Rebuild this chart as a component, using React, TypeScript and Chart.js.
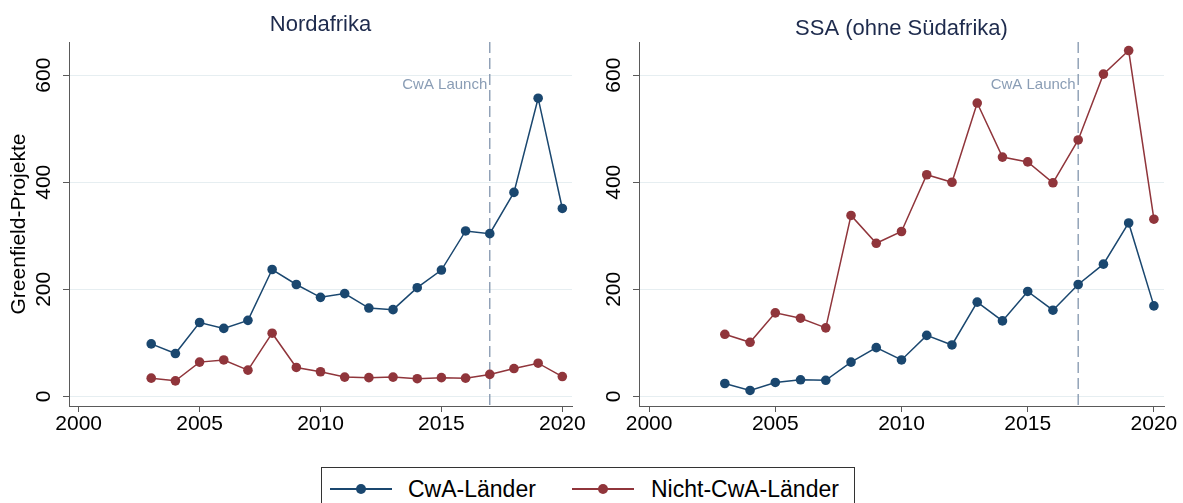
import React, { useEffect, useRef } from 'react';
import { Chart, registerables } from 'chart.js';

Chart.register(...registerables);

const years = [2003, 2004, 2005, 2006, 2007, 2008, 2009, 2010, 2011, 2012, 2013, 2014, 2015, 2016, 2017, 2018, 2019, 2020];
const nordCwA = [98, 80, 138, 127, 142, 237, 209, 185, 192, 165, 162, 203, 236, 309, 304, 381, 557, 351];
const nordNonCwA = [34, 29, 64, 68, 49, 118, 54, 46, 36, 35, 36, 33, 35, 34, 41, 52, 62, 37];
const ssaCwA = [24, 11, 26, 31, 30, 64, 91, 68, 114, 96, 176, 141, 196, 161, 209, 247, 324, 169];
const ssaNonCwA = [116, 101, 156, 146, 128, 338, 286, 308, 414, 400, 548, 447, 438, 399, 479, 602, 646, 331];
const xTicks = [2000, 2005, 2010, 2015, 2020];
const yTicks = [0, 200, 400, 600];
const launchYear = 2017;
const launchLabel = 'CwA Launch';
const panelTitles = ['Nordafrika', 'SSA (ohne Südafrika)'];
const seriesLabels = ['CwA-Länder', 'Nicht-CwA-Länder'];
const yAxisTitle = 'Greenfield-Projekte';

const BLUE = '#1a476f';
const RED = '#90353b';
const FONT = '"Liberation Sans", Arial, Helvetica, sans-serif';
const AXIS = '#5a5a5a';

const decoPlugin = {
  id: 'panelDeco',
  beforeDatasetsDraw(chart: any, _args: any, opts: any) {
    const { ctx, chartArea } = chart;
    const x = chart.scales.x.getPixelForValue(launchYear);
    ctx.save();
    ctx.strokeStyle = '#8295ad';
    ctx.lineWidth = 1.3;
    ctx.setLineDash([11, 5]);
    ctx.beginPath();
    ctx.moveTo(x, chartArea.top);
    ctx.lineTo(x, chartArea.bottom);
    ctx.stroke();
    ctx.setLineDash([]);
    ctx.fillStyle = '#8a9db5';
    ctx.font = `15px ${FONT}`;
    ctx.textAlign = 'right';
    ctx.textBaseline = 'middle';
    ctx.fillText(launchLabel, x - 2.5, chartArea.top + 42.5);
    ctx.restore();
  },
  afterDraw(chart: any, _args: any, opts: any) {
    const { ctx, chartArea } = chart;
    const ys = chart.scales.y;
    ctx.save();
    ctx.fillStyle = '#000';
    ctx.font = `21px ${FONT}`;
    ctx.textAlign = 'center';
    ctx.textBaseline = 'middle';
    for (const t of ys.ticks) {
      const py = ys.getPixelForValue(t.value);
      ctx.save();
      ctx.translate(chartArea.left - 25, py);
      ctx.rotate(-Math.PI / 2);
      ctx.fillText(String(t.value), 0, 0);
      ctx.restore();
    }
    ctx.fillStyle = '#1e2b4d';
    ctx.font = `22px ${FONT}`;
    ctx.textBaseline = 'alphabetic';
    ctx.fillText(opts.title, (chartArea.left + chartArea.right) / 2, opts.titleY);
    ctx.restore();
  },
};

function makeConfig(panel: number): any {
  const cwa = panel === 0 ? nordCwA : ssaCwA;
  const non = panel === 0 ? nordNonCwA : ssaNonCwA;
  const yWidth = panel === 0 ? 69 : 44;
  const padRight = panel === 0 ? 23 : 19;
  const mk = (vals: number[], label: string, color: string) => ({
    label,
    data: years.map((y, i) => ({ x: y, y: vals[i] })),
    borderColor: color,
    backgroundColor: color,
    pointBackgroundColor: color,
    pointBorderWidth: 0,
    pointRadius: 4.8,
    borderWidth: 1.5,
    tension: 0,
    fill: false,
  });
  return {
    type: 'line',
    data: {
      datasets: [mk(cwa, seriesLabels[0], BLUE), mk(non, seriesLabels[1], RED)],
    },
    plugins: [decoPlugin],
    options: {
      animation: false,
      responsive: false,
      maintainAspectRatio: false,
      events: [],
      layout: { padding: { top: 42, right: padRight, left: 0, bottom: 0 } },
      plugins: {
        legend: { display: false },
        tooltip: { enabled: false },
        panelDeco: { title: panelTitles[panel], titleY: panel === 0 ? 31 : 35 },
      },
      scales: {
        x: {
          type: 'linear',
          min: 1999.6,
          max: 2020.4,
          afterBuildTicks: (a: any) => {
            a.ticks = xTicks.map((v) => ({ value: v }));
          },
          afterFit: (s: any) => {
            s.height = 49;
          },
          ticks: {
            color: '#000',
            font: { family: FONT, size: 21 },
            padding: 0,
            maxRotation: 0,
            minRotation: 0,
            autoSkip: false,
            callback: (v: any) => String(v),
          },
          grid: {
            drawOnChartArea: false,
            drawTicks: true,
            tickLength: 6,
            tickColor: AXIS,
            color: AXIS,
          },
          border: { display: true, color: AXIS, width: 1 },
        },
        y: {
          type: 'linear',
          min: -18,
          max: 662,
          afterBuildTicks: (a: any) => {
            a.ticks = yTicks.map((v) => ({ value: v }));
          },
          afterFit: (s: any) => {
            s.width = yWidth;
          },
          ticks: { display: false },
          grid: {
            color: '#e6eef1',
            lineWidth: 1,
            tickColor: AXIS,
            tickLength: 6,
            drawTicks: true,
          },
          border: { display: true, color: AXIS, width: 1 },
          title: {
            display: panel === 0,
            text: yAxisTitle,
            color: '#000',
            font: { family: FONT, size: 21 },
            padding: { top: 7, bottom: 0 },
          },
        },
      },
    },
  };
}

function Panel({ panel, left, width }: { panel: number; left: number; width: number }) {
  const ref = useRef<HTMLCanvasElement | null>(null);
  useEffect(() => {
    if (!ref.current) return;
    const chart = new Chart(ref.current, makeConfig(panel));
    return () => chart.destroy();
  }, [panel]);
  return (
    <canvas
      ref={ref}
      width={width}
      height={455}
      style={{ position: 'absolute', left, top: 0, width, height: 455, display: 'block' }}
    />
  );
}

function LegendItem({ color, label, lineLeft, textLeft }: { color: string; label: string; lineLeft: number; textLeft: number }) {
  return (
    <>
      <div style={{ position: 'absolute', left: lineLeft, top: 20, width: 62, height: 1.6, background: color }} />
      <div
        style={{
          position: 'absolute',
          left: lineLeft + 31 - 5,
          top: 20.8 - 5,
          width: 10,
          height: 10,
          borderRadius: '50%',
          background: color,
        }}
      />
      <span
        style={{
          position: 'absolute',
          left: textLeft,
          top: 0,
          lineHeight: '42px',
          fontSize: 23,
          fontFamily: FONT,
          color: '#000',
          whiteSpace: 'nowrap',
        }}
      >
        {label}
      </span>
    </>
  );
}

export default function App() {
  useEffect(() => {
    document.body.style.margin = '0';
  }, []);
  return (
    <div style={{ position: 'relative', width: 1183, height: 503, overflow: 'hidden', background: '#fff' }}>
      <Panel panel={0} left={0} width={595} />
      <Panel panel={1} left={595} width={588} />
      <div
        style={{
          position: 'absolute',
          left: 321,
          top: 467,
          width: 534,
          height: 60,
          border: '1px solid #333',
          boxSizing: 'border-box',
        }}
      >
        <LegendItem color={BLUE} label={seriesLabels[0]} lineLeft={8} textLeft={86} />
        <LegendItem color={RED} label={seriesLabels[1]} lineLeft={250} textLeft={329} />
      </div>
    </div>
  );
}
